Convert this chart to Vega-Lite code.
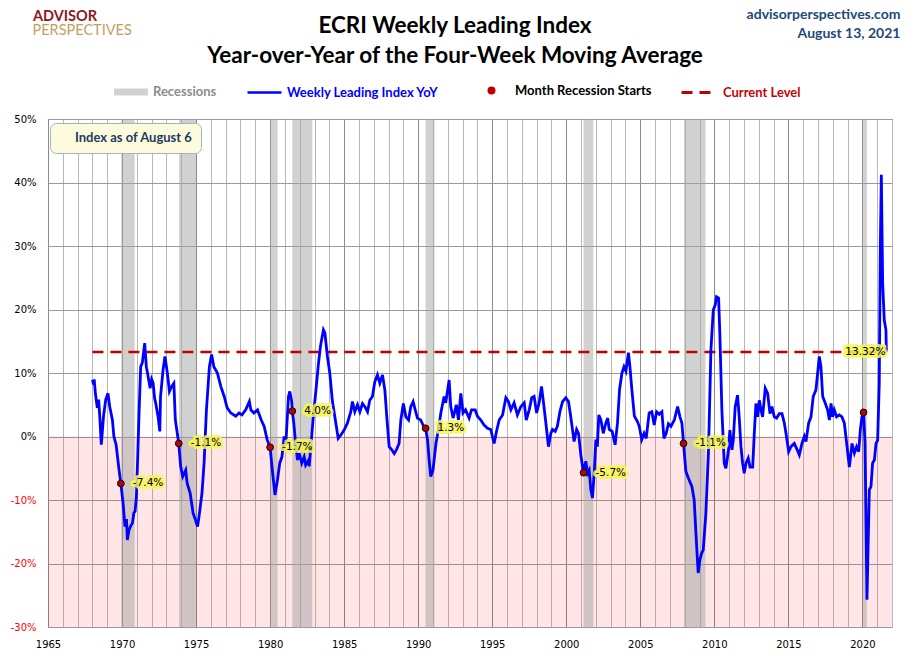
{
  "$schema": "https://vega.github.io/schema/vega-lite/v6.json",
  "width": 844,
  "height": 508,
  "autosize": {"type": "none"},
  "padding": {"left": 48, "top": 119, "right": 18, "bottom": 34},
  "background": "white",
  "title": {
    "text": ["ECRI Weekly Leading Index", "Year-over-Year of the Four-Week Moving Average"],
    "frame": "group",
    "anchor": "middle",
    "dx": -15,
    "offset": -60,
    "fontSize": 22.5,
    "font": "Lato",
    "fontWeight": "bold",
    "lineHeight": 30,
    "color": "black"
  },
  "config": {
    "view": {"stroke": "#9a9a9a"},
    "legend": {"orient": "none", "padding": 0, "labelFont": "Lato", "labelFontSize": 13, "labelFontWeight": "bold", "labelLimit": 400, "title": null}
  },
  "datasets": {
    "wli": [
      {"year": 1968.0, "value": 8.9}, {"year": 1968.08, "value": 8.2}, {"year": 1968.12, "value": 9.0}, {"year": 1968.2, "value": 6.8},
      {"year": 1968.33, "value": 4.5}, {"year": 1968.42, "value": 5.8}, {"year": 1968.5, "value": 3.0}, {"year": 1968.6, "value": -1.3},
      {"year": 1968.75, "value": 3.2}, {"year": 1968.9, "value": 5.8}, {"year": 1969.05, "value": 6.8}, {"year": 1969.17, "value": 4.7},
      {"year": 1969.35, "value": 2.6}, {"year": 1969.45, "value": 0.0}, {"year": 1969.6, "value": -1.3}, {"year": 1969.8, "value": -5.3},
      {"year": 1969.92, "value": -7.4}, {"year": 1970.07, "value": -10.5}, {"year": 1970.2, "value": -14.2}, {"year": 1970.3, "value": -13.0},
      {"year": 1970.36, "value": -16.3}, {"year": 1970.47, "value": -14.7}, {"year": 1970.6, "value": -14.0}, {"year": 1970.7, "value": -13.7},
      {"year": 1970.8, "value": -12.0}, {"year": 1970.88, "value": -11.8}, {"year": 1970.97, "value": -9.5}, {"year": 1971.06, "value": -3.2},
      {"year": 1971.15, "value": 3.7}, {"year": 1971.26, "value": 11.0}, {"year": 1971.37, "value": 11.6}, {"year": 1971.53, "value": 14.7},
      {"year": 1971.64, "value": 11.0}, {"year": 1971.72, "value": 10.0}, {"year": 1971.8, "value": 8.9}, {"year": 1971.9, "value": 7.6},
      {"year": 1972.0, "value": 9.0}, {"year": 1972.1, "value": 8.4}, {"year": 1972.2, "value": 6.0}, {"year": 1972.27, "value": 5.3},
      {"year": 1972.43, "value": 3.2}, {"year": 1972.55, "value": 0.8}, {"year": 1972.6, "value": 6.3}, {"year": 1972.77, "value": 10.5},
      {"year": 1972.9, "value": 12.6}, {"year": 1973.06, "value": 10.0}, {"year": 1973.2, "value": 7.1}, {"year": 1973.35, "value": 7.9},
      {"year": 1973.5, "value": 8.4}, {"year": 1973.6, "value": 2.6}, {"year": 1973.83, "value": -1.1}, {"year": 1973.96, "value": -4.7},
      {"year": 1974.1, "value": -6.3}, {"year": 1974.3, "value": -5.3}, {"year": 1974.4, "value": -7.4}, {"year": 1974.6, "value": -8.9},
      {"year": 1974.8, "value": -12.1}, {"year": 1974.97, "value": -13.2}, {"year": 1975.1, "value": -14.2}, {"year": 1975.2, "value": -12.6},
      {"year": 1975.4, "value": -8.9}, {"year": 1975.54, "value": -4.2}, {"year": 1975.7, "value": 4.2}, {"year": 1975.9, "value": 11.0},
      {"year": 1976.05, "value": 12.9}, {"year": 1976.2, "value": 11.0}, {"year": 1976.44, "value": 10.0}, {"year": 1976.67, "value": 7.9},
      {"year": 1976.9, "value": 6.3}, {"year": 1977.1, "value": 4.5}, {"year": 1977.35, "value": 3.7}, {"year": 1977.68, "value": 3.2},
      {"year": 1977.9, "value": 3.7}, {"year": 1978.1, "value": 3.4}, {"year": 1978.35, "value": 4.2}, {"year": 1978.6, "value": 5.5},
      {"year": 1978.7, "value": 4.2}, {"year": 1978.9, "value": 3.7}, {"year": 1979.15, "value": 4.2}, {"year": 1979.4, "value": 2.6},
      {"year": 1979.6, "value": 1.6}, {"year": 1979.8, "value": -0.5}, {"year": 1980.0, "value": -1.7}, {"year": 1980.15, "value": -5.3},
      {"year": 1980.33, "value": -9.2}, {"year": 1980.5, "value": -6.8}, {"year": 1980.65, "value": -4.2}, {"year": 1980.8, "value": -3.2},
      {"year": 1980.95, "value": 0.0}, {"year": 1981.06, "value": -1.3}, {"year": 1981.24, "value": 6.3}, {"year": 1981.33, "value": 7.1},
      {"year": 1981.46, "value": 5.5}, {"year": 1981.5, "value": 4.0}, {"year": 1981.6, "value": 2.1}, {"year": 1981.7, "value": -0.5},
      {"year": 1981.85, "value": -3.7}, {"year": 1981.96, "value": -2.6}, {"year": 1982.14, "value": -4.2}, {"year": 1982.3, "value": -3.2},
      {"year": 1982.4, "value": -4.5}, {"year": 1982.6, "value": -3.7}, {"year": 1982.64, "value": -4.7}, {"year": 1982.75, "value": -1.6},
      {"year": 1982.9, "value": 2.6}, {"year": 1983.1, "value": 7.4}, {"year": 1983.27, "value": 11.6}, {"year": 1983.4, "value": 14.2},
      {"year": 1983.6, "value": 16.8}, {"year": 1983.7, "value": 16.3}, {"year": 1983.87, "value": 12.6}, {"year": 1984.03, "value": 10.0},
      {"year": 1984.21, "value": 5.5}, {"year": 1984.44, "value": 2.1}, {"year": 1984.6, "value": -0.3}, {"year": 1984.77, "value": 0.2},
      {"year": 1985.0, "value": 1.0}, {"year": 1985.22, "value": 2.1}, {"year": 1985.45, "value": 3.9}, {"year": 1985.56, "value": 5.5},
      {"year": 1985.72, "value": 3.9}, {"year": 1985.9, "value": 5.0}, {"year": 1986.06, "value": 3.9}, {"year": 1986.24, "value": 5.2},
      {"year": 1986.4, "value": 4.7}, {"year": 1986.58, "value": 3.9}, {"year": 1986.73, "value": 5.7}, {"year": 1986.91, "value": 6.3},
      {"year": 1987.07, "value": 8.6}, {"year": 1987.25, "value": 9.7}, {"year": 1987.41, "value": 8.4}, {"year": 1987.59, "value": 9.7},
      {"year": 1987.75, "value": 7.3}, {"year": 1987.88, "value": 3.1}, {"year": 1988.04, "value": -1.6}, {"year": 1988.22, "value": -2.1},
      {"year": 1988.38, "value": -2.7}, {"year": 1988.53, "value": -2.1}, {"year": 1988.71, "value": -1.1}, {"year": 1988.83, "value": 2.6},
      {"year": 1989.0, "value": 5.2}, {"year": 1989.17, "value": 3.1}, {"year": 1989.35, "value": 2.6}, {"year": 1989.5, "value": 4.7},
      {"year": 1989.66, "value": 5.5}, {"year": 1989.8, "value": 4.2}, {"year": 1989.95, "value": 2.9}, {"year": 1990.17, "value": 2.6},
      {"year": 1990.33, "value": 1.8}, {"year": 1990.5, "value": 1.3}, {"year": 1990.63, "value": -0.5}, {"year": 1990.74, "value": -3.7},
      {"year": 1990.85, "value": -6.3}, {"year": 1991.0, "value": -5.3}, {"year": 1991.2, "value": -1.1}, {"year": 1991.37, "value": 1.1},
      {"year": 1991.53, "value": 3.7}, {"year": 1991.75, "value": 6.3}, {"year": 1991.86, "value": 5.3}, {"year": 1992.09, "value": 8.9},
      {"year": 1992.2, "value": 4.7}, {"year": 1992.36, "value": 2.9}, {"year": 1992.58, "value": 5.0}, {"year": 1992.72, "value": 2.6},
      {"year": 1992.88, "value": 6.8}, {"year": 1993.03, "value": 3.7}, {"year": 1993.2, "value": 4.2}, {"year": 1993.44, "value": 2.9},
      {"year": 1993.6, "value": 4.2}, {"year": 1993.85, "value": 4.2}, {"year": 1994.0, "value": 3.2}, {"year": 1994.23, "value": 2.6},
      {"year": 1994.45, "value": 1.8}, {"year": 1994.68, "value": 1.3}, {"year": 1994.9, "value": 1.1}, {"year": 1995.13, "value": -1.1},
      {"year": 1995.29, "value": 0.8}, {"year": 1995.47, "value": 2.6}, {"year": 1995.7, "value": 3.4}, {"year": 1995.92, "value": 6.1},
      {"year": 1996.1, "value": 5.5}, {"year": 1996.26, "value": 4.2}, {"year": 1996.48, "value": 5.3}, {"year": 1996.7, "value": 3.4},
      {"year": 1996.93, "value": 4.7}, {"year": 1997.16, "value": 5.3}, {"year": 1997.3, "value": 2.6}, {"year": 1997.5, "value": 4.2},
      {"year": 1997.67, "value": 6.1}, {"year": 1997.83, "value": 6.3}, {"year": 1998.0, "value": 3.7}, {"year": 1998.17, "value": 5.3},
      {"year": 1998.33, "value": 7.9}, {"year": 1998.44, "value": 5.8}, {"year": 1998.6, "value": 2.6}, {"year": 1998.8, "value": -1.6},
      {"year": 1998.96, "value": 0.5}, {"year": 1999.07, "value": 1.1}, {"year": 1999.25, "value": 0.8}, {"year": 1999.4, "value": 1.6},
      {"year": 1999.57, "value": 3.9}, {"year": 1999.75, "value": 5.5}, {"year": 1999.97, "value": 6.1}, {"year": 2000.15, "value": 5.5},
      {"year": 2000.3, "value": 3.2}, {"year": 2000.53, "value": -0.8}, {"year": 2000.7, "value": 1.1}, {"year": 2000.83, "value": 0.5},
      {"year": 2001.0, "value": -3.2}, {"year": 2001.17, "value": -5.7}, {"year": 2001.32, "value": -3.9}, {"year": 2001.44, "value": -5.8},
      {"year": 2001.55, "value": -5.3}, {"year": 2001.66, "value": -8.4}, {"year": 2001.77, "value": -9.7}, {"year": 2001.9, "value": -5.3},
      {"year": 2002.0, "value": -0.5}, {"year": 2002.1, "value": -1.6}, {"year": 2002.2, "value": 3.4}, {"year": 2002.34, "value": 2.6},
      {"year": 2002.5, "value": 0.5}, {"year": 2002.67, "value": 2.1}, {"year": 2002.8, "value": 2.9}, {"year": 2002.9, "value": 1.1},
      {"year": 2003.1, "value": 0.8}, {"year": 2003.3, "value": -1.3}, {"year": 2003.46, "value": 2.1}, {"year": 2003.6, "value": 7.4},
      {"year": 2003.76, "value": 10.0}, {"year": 2003.9, "value": 11.0}, {"year": 2004.03, "value": 10.3}, {"year": 2004.2, "value": 13.2},
      {"year": 2004.3, "value": 11.0}, {"year": 2004.43, "value": 7.4}, {"year": 2004.6, "value": 3.2}, {"year": 2004.8, "value": 2.4},
      {"year": 2004.93, "value": 1.6}, {"year": 2005.1, "value": -0.5}, {"year": 2005.26, "value": 0.5}, {"year": 2005.4, "value": -0.3},
      {"year": 2005.6, "value": 3.7}, {"year": 2005.78, "value": 3.9}, {"year": 2005.94, "value": 1.8}, {"year": 2006.1, "value": 3.9},
      {"year": 2006.28, "value": 3.5}, {"year": 2006.46, "value": 3.9}, {"year": 2006.6, "value": -0.3}, {"year": 2006.75, "value": 0.5},
      {"year": 2006.9, "value": 2.0}, {"year": 2007.07, "value": 1.6}, {"year": 2007.3, "value": 2.6}, {"year": 2007.52, "value": 4.7},
      {"year": 2007.68, "value": 3.1}, {"year": 2007.81, "value": 2.1}, {"year": 2007.92, "value": -1.1}, {"year": 2008.08, "value": -5.5},
      {"year": 2008.26, "value": -6.6}, {"year": 2008.49, "value": -7.9}, {"year": 2008.64, "value": -10.0}, {"year": 2008.76, "value": -15.3},
      {"year": 2008.91, "value": -21.5}, {"year": 2009.03, "value": -19.4}, {"year": 2009.14, "value": -18.4}, {"year": 2009.25, "value": -17.9},
      {"year": 2009.43, "value": -12.1}, {"year": 2009.61, "value": -2.1}, {"year": 2009.77, "value": 13.6}, {"year": 2009.93, "value": 19.9},
      {"year": 2010.06, "value": 20.7}, {"year": 2010.15, "value": 22.0}, {"year": 2010.29, "value": 21.8}, {"year": 2010.38, "value": 15.7},
      {"year": 2010.51, "value": 4.2}, {"year": 2010.67, "value": -4.2}, {"year": 2010.78, "value": -5.0}, {"year": 2010.96, "value": -2.1},
      {"year": 2011.05, "value": 1.0}, {"year": 2011.19, "value": -2.1}, {"year": 2011.28, "value": -0.6}, {"year": 2011.41, "value": 4.7},
      {"year": 2011.57, "value": 6.5}, {"year": 2011.68, "value": 3.1}, {"year": 2011.8, "value": -1.6}, {"year": 2011.91, "value": -4.2},
      {"year": 2012.02, "value": -5.8}, {"year": 2012.14, "value": -4.2}, {"year": 2012.29, "value": -3.4}, {"year": 2012.41, "value": -4.8},
      {"year": 2012.59, "value": -4.8}, {"year": 2012.7, "value": 0.5}, {"year": 2012.81, "value": 5.2}, {"year": 2012.92, "value": 3.1},
      {"year": 2013.04, "value": 5.7}, {"year": 2013.15, "value": 4.2}, {"year": 2013.26, "value": 3.1}, {"year": 2013.44, "value": 7.6},
      {"year": 2013.6, "value": 6.8}, {"year": 2013.76, "value": 3.6}, {"year": 2013.89, "value": 4.7}, {"year": 2014.05, "value": 3.1},
      {"year": 2014.21, "value": 2.9}, {"year": 2014.39, "value": 3.6}, {"year": 2014.57, "value": 3.6}, {"year": 2014.73, "value": 2.1},
      {"year": 2014.84, "value": 0.5}, {"year": 2015.02, "value": -2.4}, {"year": 2015.18, "value": -1.6}, {"year": 2015.4, "value": -1.1},
      {"year": 2015.56, "value": -1.9}, {"year": 2015.74, "value": -2.9}, {"year": 2015.92, "value": -1.1}, {"year": 2016.08, "value": 0.0},
      {"year": 2016.19, "value": -0.8}, {"year": 2016.37, "value": 2.1}, {"year": 2016.53, "value": 3.1}, {"year": 2016.68, "value": 6.3},
      {"year": 2016.86, "value": 7.3}, {"year": 2016.98, "value": 10.0}, {"year": 2017.09, "value": 12.6}, {"year": 2017.2, "value": 11.0},
      {"year": 2017.32, "value": 6.3}, {"year": 2017.5, "value": 5.2}, {"year": 2017.65, "value": 4.2}, {"year": 2017.77, "value": 2.6},
      {"year": 2017.88, "value": 5.2}, {"year": 2017.99, "value": 3.1}, {"year": 2018.1, "value": 4.2}, {"year": 2018.26, "value": 3.1},
      {"year": 2018.44, "value": 3.4}, {"year": 2018.62, "value": 3.1}, {"year": 2018.78, "value": 2.1}, {"year": 2018.94, "value": -1.1},
      {"year": 2019.12, "value": -4.8}, {"year": 2019.3, "value": -1.1}, {"year": 2019.46, "value": -2.6}, {"year": 2019.61, "value": -1.6},
      {"year": 2019.75, "value": -2.4}, {"year": 2019.86, "value": 1.0}, {"year": 2019.97, "value": 3.1}, {"year": 2020.08, "value": 3.8},
      {"year": 2020.18, "value": -1.1}, {"year": 2020.24, "value": -12.6}, {"year": 2020.31, "value": -25.7}, {"year": 2020.38, "value": -17.8},
      {"year": 2020.47, "value": -8.4}, {"year": 2020.58, "value": -7.9}, {"year": 2020.69, "value": -4.2}, {"year": 2020.81, "value": -3.7},
      {"year": 2020.92, "value": -1.1}, {"year": 2021.03, "value": -0.6}, {"year": 2021.14, "value": 8.4}, {"year": 2021.21, "value": 29.4},
      {"year": 2021.28, "value": 41.2}, {"year": 2021.37, "value": 24.1}, {"year": 2021.48, "value": 18.3}, {"year": 2021.59, "value": 16.8},
      {"year": 2021.62, "value": 13.32}
    ],
    "zones": [{"year": 1965, "end": 2022, "value": 0, "low": -30}],
    "recessions": [
      {"year": 1969.95, "end": 1970.85}, {"year": 1973.85, "end": 1975.0}, {"year": 1980.0, "end": 1980.5},
      {"year": 1981.5, "end": 1982.85}, {"year": 1990.5, "end": 1991.1}, {"year": 2001.17, "end": 2001.83},
      {"year": 2007.95, "end": 2009.4}, {"year": 2020.05, "end": 2020.3}
    ],
    "starts": [
      {"year": 1969.92, "value": -7.4, "label": "-7.4%"}, {"year": 1973.83, "value": -1.1, "label": "-1.1%"},
      {"year": 1980.0, "value": -1.7, "label": "-1.7%"}, {"year": 1981.5, "value": 4.0, "label": "4.0%"},
      {"year": 1990.5, "value": 1.3, "label": "1.3%"}, {"year": 2001.17, "value": -5.7, "label": "-5.7%"},
      {"year": 2007.92, "value": -1.1, "label": "-1.1%"}, {"year": 2020.08, "value": 3.8, "label": ""}
    ],
    "current": [{"year": 1968.0, "end": 2021.62, "value": 13.32, "label": "13.32%"}]
  },
  "encoding": {
    "x": {
      "field": "year", "type": "quantitative",
      "scale": {"domain": [1965, 2022], "nice": false, "zero": false},
      "axis": {
        "values": [1965, 1966, 1967, 1968, 1969, 1970, 1971, 1972, 1973, 1974, 1975, 1976, 1977, 1978, 1979, 1980, 1981, 1982, 1983, 1984, 1985, 1986, 1987, 1988, 1989, 1990, 1991, 1992, 1993, 1994, 1995, 1996, 1997, 1998, 1999, 2000, 2001, 2002, 2003, 2004, 2005, 2006, 2007, 2008, 2009, 2010, 2011, 2012, 2013, 2014, 2015, 2016, 2017, 2018, 2019, 2020, 2021, 2022],
        "labelExpr": "datum.value % 5 === 0 ? '' + datum.value : ''",
        "labelOverlap": false,
        "labelFlush": false,
        "labelFont": "DejaVu Sans",
        "labelFontSize": 10,
        "labelColor": "black",
        "labelPadding": 12,
        "ticks": false,
        "domain": false,
        "grid": true,
        "gridColor": {"condition": {"test": "datum.value % 5 === 0", "value": "#8a8a8a"}, "value": "#b8b8b8"},
        "title": ["advisorperspectives.com", "August 13, 2021"],
        "titleX": 852,
        "titleY": -620,
        "titleAlign": "right",
        "titleBaseline": "top",
        "titleFont": "Lato",
        "titleFontSize": 14,
        "titleFontWeight": "bold",
        "titleColor": "#24497a",
        "titleLineHeight": 19
      }
    }
  },
  "layer": [
    {
      "data": {"name": "zones"},
      "mark": {"type": "rect", "fill": "#ff0000"},
      "encoding": {
        "x2": {"field": "end"},
        "y": {"field": "value", "type": "quantitative", "title": null},
        "y2": {"field": "low"},
        "opacity": {
          "datum": "Index as of August 6", "type": "nominal",
          "scale": {"range": [0.1, 0.1]},
          "legend": {"legendX": 2, "legendY": 4, "padding": 8, "fillColor": "#fcfcdc", "strokeColor": "#9fb3cf", "cornerRadius": 6, "symbolSize": 0, "labelOffset": 4, "labelColor": "#1f3864"}
        }
      }
    },
    {
      "data": {"name": "recessions"},
      "mark": {"type": "rect", "opacity": 0.5},
      "encoding": {
        "x2": {"field": "end"},
        "y": {"datum": 50, "type": "quantitative", "title": null},
        "y2": {"datum": -30},
        "fill": {
          "datum": "Recessions", "type": "nominal",
          "scale": {"range": ["#a3a3a3"]},
          "legend": {"legendX": 65, "legendY": -45, "symbolType": "M-1,-0.2H1V0.2H-1Z", "symbolSize": 1156, "symbolOpacity": 0.5, "labelOffset": 4, "labelColor": "#8c8c8c"}
        }
      }
    },
    {
      "data": {"name": "current"},
      "mark": {"type": "rule", "color": "#c00000"},
      "encoding": {
        "x2": {"field": "end"},
        "y": {"field": "value", "type": "quantitative", "title": null},
        "strokeDash": {
          "datum": "Current Level", "type": "nominal",
          "scale": {"range": [[11, 7]]},
          "legend": {"legendX": 632, "legendY": -43, "symbolType": "stroke", "symbolSize": 900, "symbolStrokeColor": "#c00000", "symbolStrokeWidth": 3, "symbolDash": [11, 8], "labelOffset": 10, "labelColor": "#cc0000"}
        },
        "strokeWidth": {
          "datum": "PERSPECTIVES", "type": "nominal",
          "scale": {"range": [2.5, 2.5]},
          "legend": {"legendX": -15, "legendY": -109, "title": "ADVISOR", "titleFont": "Lato", "titleFontSize": 14.5, "titleFontWeight": "bold", "titleColor": "#8b1a1a", "titlePadding": -1, "symbolSize": 0, "symbolOpacity": 0, "labelOffset": -15, "labelFontSize": 14.5, "labelFontWeight": "normal", "labelColor": "#c4a060"}
        }
      }
    },
    {
      "data": {"name": "wli"},
      "mark": {"type": "line", "strokeWidth": 2.8},
      "encoding": {
        "y": {
          "field": "value", "type": "quantitative",
          "scale": {"domain": [-30, 50], "nice": false},
          "axis": {
            "values": [-30, -20, -10, 0, 10, 20, 30, 40, 50],
            "labelExpr": "datum.value + '%'",
            "labelFont": "DejaVu Sans",
            "labelFontSize": 10,
            "labelColor": {"condition": {"test": "datum.value < 0", "value": "#ff0000"}, "value": "black"},
            "labelPadding": 12,
            "labelFlush": false,
            "ticks": false,
            "domain": false,
            "grid": true,
            "gridColor": "#9a9a9a",
            "title": null
          }
        },
        "stroke": {
          "datum": "Weekly Leading Index YoY", "type": "nominal",
          "scale": {"range": ["#0000ff"]},
          "legend": {"legendX": 198, "legendY": -45, "symbolType": "stroke", "symbolSize": 1156, "symbolStrokeWidth": 2.5, "labelOffset": 4, "labelColor": "#0000ff"}
        }
      }
    },
    {
      "data": {"name": "starts"},
      "mark": {"type": "point", "filled": true, "fill": "#c00000", "stroke": "black", "strokeWidth": 1, "size": 45, "opacity": 1},
      "encoding": {
        "y": {"field": "value", "type": "quantitative", "title": null},
        "shape": {
          "datum": "Month Recession Starts", "type": "nominal",
          "scale": {"range": ["circle"]},
          "legend": {"legendX": 437, "legendY": -35, "symbolSize": 64, "symbolFillColor": "#c00000", "symbolStrokeColor": "black", "symbolStrokeWidth": 1, "labelOffset": 17, "labelColor": "black"}
        }
      }
    },
    {
      "data": {"name": "starts"},
      "mark": {"type": "text", "align": "left", "baseline": "middle", "dx": 12, "font": "DejaVu Sans", "fontSize": 10.5, "fill": "#f6f650", "stroke": "#f6f650", "strokeWidth": 6, "strokeJoin": "round", "opacity": 0.85},
      "encoding": {"y": {"field": "value", "type": "quantitative", "title": null}, "text": {"field": "label"}}
    },
    {
      "data": {"name": "starts"},
      "mark": {"type": "text", "align": "left", "baseline": "middle", "dx": 12, "font": "DejaVu Sans", "fontSize": 10.5, "color": "black"},
      "encoding": {"y": {"field": "value", "type": "quantitative", "title": null}, "text": {"field": "label"}}
    },
    {
      "data": {"name": "current"},
      "mark": {"type": "text", "align": "right", "baseline": "middle", "dx": -1, "font": "DejaVu Sans", "fontSize": 10.5, "fill": "#f6f650", "stroke": "#f6f650", "strokeWidth": 6, "strokeJoin": "round", "opacity": 0.85},
      "encoding": {"x": {"field": "end", "type": "quantitative"}, "y": {"field": "value", "type": "quantitative", "title": null}, "text": {"field": "label"}}
    },
    {
      "data": {"name": "current"},
      "mark": {"type": "text", "align": "right", "baseline": "middle", "dx": -1, "font": "DejaVu Sans", "fontSize": 10.5, "color": "black"},
      "encoding": {"x": {"field": "end", "type": "quantitative"}, "y": {"field": "value", "type": "quantitative", "title": null}, "text": {"field": "label"}}
    }
  ]
}
